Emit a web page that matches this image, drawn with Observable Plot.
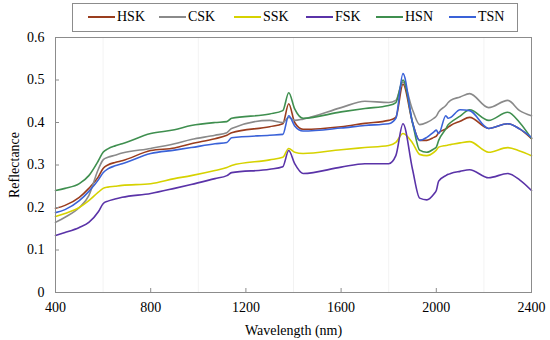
<!DOCTYPE html>
<html>
<head>
<meta charset="utf-8">
<script src="https://cdn.jsdelivr.net/npm/d3@7"></script>
<script src="https://cdn.jsdelivr.net/npm/@observablehq/plot@0.6"></script>
<style>
  html, body { margin: 0; padding: 0; background: #fff; }
  #wrap { position: relative; width: 550px; height: 340px; font-family: "Liberation Serif", "Times New Roman", serif; }
  #wrap svg, #wrap svg text { font-family: "Liberation Serif", "Times New Roman", serif !important; }
  #legend { position: absolute; left: 72px; top: 3px; width: 444px; height: 27px; border: 1px solid #8c8c8c; background: #fff; box-sizing: content-box; }
  .item { position: absolute; top: 5px; font-size: 14px; line-height: 16px; color: #000; display: flex; align-items: center; }
  .item span.sw { display: inline-block; width: 27px; height: 2px; margin-right: 2px; }
</style>
</head>
<body>
<div id="wrap"><div id="legend"></div></div>
<script>
const series = ["HSK", "CSK", "SSK", "FSK", "HSN", "TSN"];
const colors = ["#9a3d1e", "#8a8a8a", "#d6d200", "#5a33a8", "#3f8f4f", "#3a62d8"];
const wavelengths = [400,440,500,540,580,600,620,650,680,800,900,970,1070,1120,1140,1300,1355,1380,1405,1440,1600,1700,1800,1830,1860,1900,1930,1960,1990,2000,2010,2040,2050,2060,2100,2140,2220,2300,2350,2400];
const HSK = [.198,.205,.224,.245,.272,.292,.300,.306,.31,.334,.34,.35,.362,.37,.376,.39,.397,.444,.40,.384,.39,.398,.405,.412,.49,.40,.358,.358,.365,.368,.376,.385,.389,.393,.403,.412,.386,.397,.385,.362];
const CSK = [.165,.177,.20,.228,.29,.312,.318,.323,.328,.339,.35,.36,.37,.376,.386,.405,.40,.412,.405,.408,.435,.45,.447,.452,.495,.43,.395,.40,.41,.415,.425,.44,.447,.452,.46,.468,.435,.452,.428,.416];
const SSK = [.179,.186,.20,.216,.236,.245,.248,.250,.252,.256,.268,.275,.287,.294,.299,.312,.318,.339,.33,.327,.336,.341,.346,.353,.374,.352,.325,.322,.33,.335,.342,.346,.347,.348,.352,.355,.33,.341,.333,.322];
const FSK = [.134,.141,.153,.165,.19,.209,.215,.220,.224,.233,.245,.254,.268,.275,.282,.29,.296,.334,.303,.28,.295,.303,.303,.322,.397,.29,.222,.218,.232,.24,.262,.275,.278,.28,.285,.289,.27,.28,.265,.24];
const HSN = [.240,.245,.256,.275,.31,.33,.338,.345,.35,.374,.383,.393,.400,.402,.41,.42,.428,.47,.432,.41,.425,.433,.44,.447,.50,.40,.335,.33,.338,.342,.358,.385,.395,.40,.415,.43,.405,.424,.40,.362];
const TSN = [.188,.195,.216,.238,.265,.282,.291,.298,.303,.327,.335,.341,.35,.353,.364,.37,.372,.416,.392,.38,.387,.393,.397,.41,.515,.40,.358,.365,.378,.382,.374,.416,.41,.412,.43,.428,.386,.397,.385,.365];
const xTicks = [400, 800, 1200, 1600, 2000, 2400];
const yTicks = [0, 0.1, 0.2, 0.3, 0.4, 0.5, 0.6];
const xGrid = [600, 1000, 1400, 1800, 2200];
const legendX = [15, 86, 161, 233, 303, 376];

const valuesBySeries = {HSK, CSK, SSK, FSK, HSN, TSN};
const data = series.flatMap(s => wavelengths.map((w, i) => ({series: s, wl: w, r: valuesBySeries[s][i]})));

const font = "'Liberation Serif', 'Times New Roman', serif";
const chart = Plot.plot({
  width: 550,
  height: 340,
  marginLeft: 55,
  marginRight: 19,
  marginTop: 37,
  marginBottom: 48,
  style: {fontFamily: font, fontSize: "14px", color: "#000", background: "#fff"},
  x: {domain: [400, 2400]},
  y: {domain: [0, 0.6]},
  color: {domain: series, range: colors},
  marks: [
    Plot.ruleX(xGrid, {stroke: "#000", strokeOpacity: 0.05}),
    Plot.lineY(data, {x: "wl", y: "r", z: "series", stroke: "series", strokeWidth: 1.6, curve: "monotone-x"}),
    Plot.frame({stroke: "#8c8c8c", strokeWidth: 1}),
    Plot.axisX({ticks: xTicks, tickSize: -4, tickPadding: 14, stroke: "#8c8c8c", fill: "#000", fontFamily: font, tickFormat: d => String(d), fontSize: 14, label: "Wavelength (nm)", labelAnchor: "center", labelOffset: 42, labelArrow: "none"}),
    Plot.axisY({ticks: yTicks, tickSize: -4, tickPadding: 15, stroke: "#8c8c8c", fill: "#000", fontFamily: font, tickFormat: d => d === 0 ? "0" : d.toFixed(1), fontSize: 14, label: "Reflectance", labelAnchor: "center", labelOffset: 46, labelArrow: "none"})
  ]
});
document.getElementById("wrap").prepend(chart);

const legend = document.getElementById("legend");
series.forEach((s, i) => {
  const el = document.createElement("div");
  el.className = "item";
  el.style.left = legendX[i] + "px";
  const sw = document.createElement("span");
  sw.className = "sw";
  sw.style.background = colors[i];
  el.appendChild(sw);
  el.appendChild(document.createTextNode(s));
  legend.appendChild(el);
});
</script>
</body>
</html>
